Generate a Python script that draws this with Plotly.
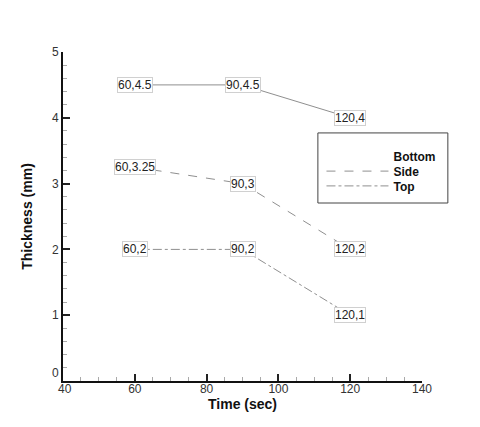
import plotly.graph_objects as go

# Data
time_sec = [60, 90, 120]
bottom_mm = [4.5, 4.5, 4.0]
side_mm = [3.25, 3.0, 2.0]
top_mm = [2.0, 2.0, 1.0]
series_names = ["Bottom", "Side", "Top"]
y_tick_vals = [0, 1, 2, 3, 4, 5]
y_tick_text = ["0<br>&nbsp;", "1", "2", "3", "4", "5"]
x_tick_vals = [40, 60, 80, 100, 120, 140]
x_tick_text = ["&nbsp;40", "60", "80", "100", "120", "140"]

FONT = "Liberation Sans, Arial, Helvetica, sans-serif"
LINE_COL = "#8f8f8f"

fig = go.Figure()

# Bottom (drawn without a legend sample, as in the reference)
fig.add_trace(go.Scatter(x=time_sec, y=bottom_mm, mode="lines", name=series_names[0],
                         line=dict(color=LINE_COL, width=1, dash="solid"), showlegend=False))
fig.add_trace(go.Scatter(x=[None], y=[None], mode="lines", name=series_names[0],
                         line=dict(color="rgba(0,0,0,0)", width=1), legend="legend"))
fig.add_trace(go.Scatter(x=time_sec, y=side_mm, mode="lines", name=series_names[1],
                         line=dict(color=LINE_COL, width=1, dash="dash"), legend="legend2"))
fig.add_trace(go.Scatter(x=time_sec, y=top_mm, mode="lines", name=series_names[2],
                         line=dict(color=LINE_COL, width=1, dash="dashdot"), legend="legend3"))

# Point labels
for ys in (bottom_mm, side_mm, top_mm):
    for xv, yv in zip(time_sec, ys):
        fig.add_annotation(x=xv, y=yv, text=f"{xv:g},{yv:g}", showarrow=False,
                           font=dict(family=FONT, size=12, color="#222"),
                           bgcolor="white", bordercolor="#d0d0d0", borderwidth=1, borderpad=0,
                           xanchor="center", yanchor="middle")

# Legend frame
fig.add_shape(type="rect", xref="paper", yref="paper", x0=0.710, x1=1.072, y0=0.541, y1=0.754,
              line=dict(color="#444", width=1), fillcolor="rgba(0,0,0,0)", layer="below")

legend_font = dict(family=FONT, size=12, color="#111", weight="bold")
def leg(y):
    return dict(x=0.72, y=y, xanchor="left", yanchor="middle",
                bgcolor="rgba(0,0,0,0)", borderwidth=0, itemwidth=62, font=legend_font)

fig.update_layout(
    width=480, height=427,
    margin=dict(l=55, r=66, t=44, b=54),
    paper_bgcolor="white", plot_bgcolor="white",
    font=dict(family=FONT, size=12, color="#333"),
    legend=leg(0.684), legend2=leg(0.638), legend3=leg(0.593),
    xaxis=dict(range=[40, 140], tickmode="array", tickvals=x_tick_vals, ticktext=x_tick_text,
               ticks="inside", ticklen=7, tickwidth=1.5, tickcolor="#222",
               minor=dict(dtick=5, ticks="inside", ticklen=4, tickcolor="#aaa", tickwidth=1),
               showline=True, linecolor="#111", linewidth=2, showgrid=False, zeroline=False,
               tickfont=dict(size=12, color="#333"), ticklabelstandoff=-4,
               title=dict(text="Time (sec)", standoff=0,
                          font=dict(family=FONT, size=14, color="#111", weight="bold"))),
    yaxis=dict(range=[0, 5], tickmode="array", tickvals=y_tick_vals, ticktext=y_tick_text,
               ticks="inside", ticklen=7, tickwidth=1.5, tickcolor="#222",
               minor=dict(dtick=0.2, ticks="inside", ticklen=4, tickcolor="#aaa", tickwidth=1),
               showline=True, linecolor="#111", linewidth=2, showgrid=False, zeroline=False,
               tickfont=dict(size=12, color="#333"),
               title=dict(text="Thickness (mm)", standoff=16,
                          font=dict(family=FONT, size=14, color="#111", weight="bold"))),
)

fig.write_html("out.html")
